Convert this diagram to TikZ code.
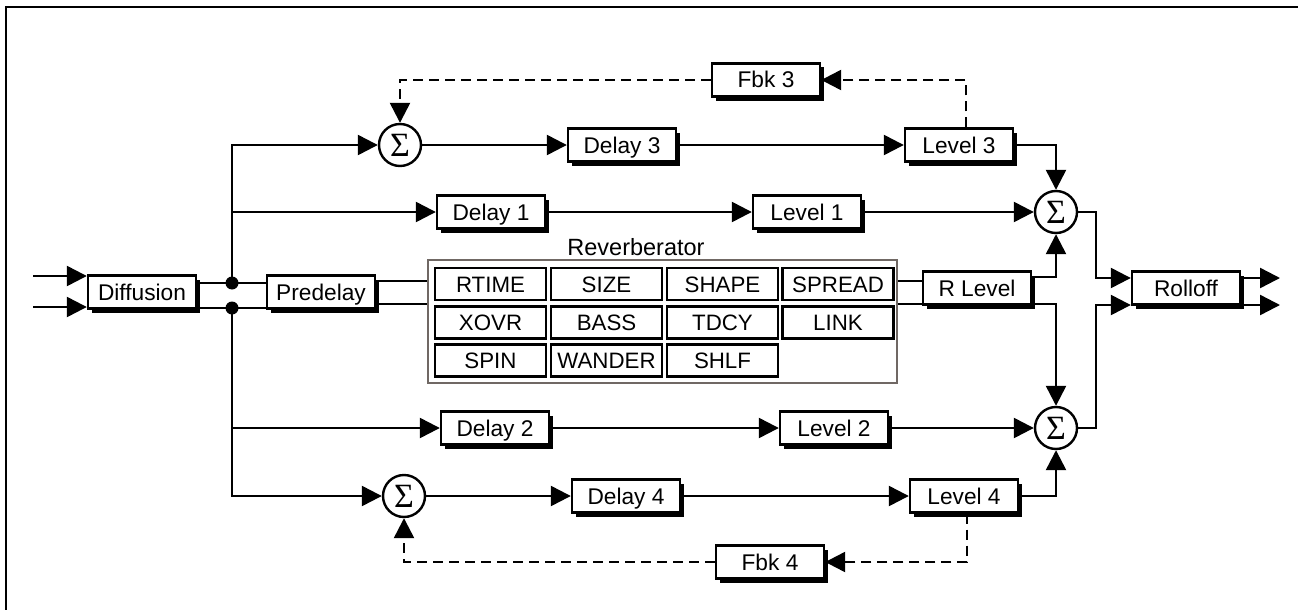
\documentclass[tikz,border=0pt]{standalone}
\usepackage{fontspec}
\setmainfont{Liberation Sans}
\newfontfamily\sigfont{Liberation Serif}
\usetikzlibrary{arrows.meta,shadows,calc}
\definecolor{rvgray}{RGB}{112,104,100}
\begin{document}
\begin{tikzpicture}[x=1pt,y=-1pt,
  ln/.style={line width=2.4pt},
  arr/.style={line width=2.4pt,-{Triangle[length=20pt,width=20pt]}},
  darr/.style={arr,dash pattern=on 10pt off 6pt},
  blk/.style={draw,line width=2.4pt,fill=white,minimum width=108pt,minimum height=33pt,inner sep=0pt,
    text height=16pt,text depth=0pt,font=\fontsize{22.7}{26}\selectfont,
    drop shadow={shadow xshift=4pt,shadow yshift=-4pt,fill=black,opacity=1}},
  cell/.style={draw,line width=2.4pt,minimum width=111pt,minimum height=32pt,inner sep=0pt,
    text height=16pt,text depth=0pt,font=\fontsize{22.3}{26}\selectfont},
  sum/.style={circle,draw,line width=2.4pt,fill=white,minimum size=42pt,inner sep=0pt,
    text height=22pt,text depth=0pt,font=\sigfont\fontsize{34}{34}\selectfont},
  lbl/.style={font=\fontsize{23.5}{26}\selectfont,inner sep=0pt}
]
\useasboundingbox (0,0) rectangle (1298,610);
\draw[line width=2.8pt] (6,610) -- (6,7) -- (1298,7);

% nodes
\node[blk] (Diff) at (142,292) {Diffusion};
\node[blk] (Pre) at (321,292) {Predelay};
\node[draw=rvgray,line width=2.4pt,minimum width=469pt,minimum height=123pt,inner sep=0pt] (RB) at (662.5,321.5) {};
\node[lbl] (RBl) at (636,247) {Reverberator};
\node[cell] (c11) at (490.5,284) {RTIME};
\node[cell] (c12) at (606.5,284) {SIZE};
\node[cell] (c13) at (722.5,284) {SHAPE};
\node[cell] (c14) at (838,284) {SPREAD};
\node[cell] (c21) at (490.5,322.5) {XOVR};
\node[cell] (c22) at (606.5,322.5) {BASS};
\node[cell] (c23) at (722.5,322.5) {TDCY};
\node[cell] (c24) at (838,322.5) {LINK};
\node[cell] (c31) at (490.5,360.5) {SPIN};
\node[cell] (c32) at (606.5,360.5) {WANDER};
\node[cell] (c33) at (722.5,360.5) {SHLF};
\node[blk] (RL) at (977,288) {R Level};
\node[blk] (Roll) at (1186,288) {Rolloff};

\node[blk] (F3) at (766,80) {Fbk 3};
\node[sum] (S3) at (400,145) {Σ};
\node[blk] (D3) at (622,145) {Delay 3};
\node[blk] (L3) at (959,145) {Level 3};
\node[blk] (D1) at (491,212) {Delay 1};
\node[blk] (L1) at (807,212) {Level 1};
\node[sum] (S1) at (1056,212) {Σ};

\node[blk] (D2) at (495,428) {Delay 2};
\node[blk] (L2) at (834,428) {Level 2};
\node[sum] (S2) at (1056,428) {Σ};
\node[sum] (S4) at (404,496) {Σ};
\node[blk] (D4) at (626,496) {Delay 4};
\node[blk] (L4) at (964,496) {Level 4};
\node[blk] (F4) at (770,562) {Fbk 4};

% coordinates
\coordinate (in1) at (33,276);
\coordinate (in2) at (33,307);
\coordinate (j1) at (232,283);
\coordinate (j2) at (232,308);
\coordinate (p1) at (0,281);
\coordinate (p2) at (0,304);
\coordinate (q1) at (0,277);
\coordinate (q2) at (0,304);
\coordinate (mx) at (1096,0);
\coordinate (rin1) at (Roll.west |- 0,278);
\coordinate (rin2) at (Roll.west |- 0,305);
\coordinate (out1) at (1280,278);
\coordinate (out2) at (1280,305);

% inputs
\draw[arr] (in1) -- (in1 -| Diff.west);
\draw[arr] (in2) -- (in2 -| Diff.west);
\draw[ln] (j1 -| Diff.east) -- (j1 -| Pre.west);
\draw[ln] (j2 -| Diff.east) -- (j2 -| Pre.west);
\fill (j1) circle (6.5pt);
\fill (j2) circle (6.5pt);

% predelay -> reverb -> R level
\draw[ln] (p1 -| Pre.east) -- (p1 -| RB.west);
\draw[ln] (p2 -| Pre.east) -- (p2 -| RB.west);
\draw[ln] (p1 -| RB.east) -- (p1 -| RL.west);
\draw[ln] (p2 -| RB.east) -- (p2 -| RL.west);

% branches
\draw[arr] (j1) |- (S3.west);
\draw[arr] (j1 |- D1) -- (D1.west);
\draw[arr] (j2) |- (S4.west);
\draw[arr] (j2 |- D2) -- (D2.west);

% top path
\draw[arr] (S3) -- (D3);
\draw[arr] (D3) -- (L3);
\draw[arr] (L3.east) -| (S1.north);
\draw[darr] ($(L3.north)+(7,0)$) |- (F3.east);
\draw[darr] (F3.west) -| (S3.north);
\draw[arr] (D1) -- (L1);
\draw[arr] (L1) -- (S1);

% R level outputs
\draw[arr] (q1 -| RL.east) -| (S1.south);
\draw[arr] (q2 -| RL.east) -| (S2.north);

% bottom path
\draw[arr] (D2) -- (L2);
\draw[arr] (L2) -- (S2);
\draw[arr] (S4) -- (D4);
\draw[arr] (D4) -- (L4);
\draw[arr] (L4.east) -| (S2.south);
\draw[darr] ($(L4.south)+(3,0)$) |- (F4.east);
\draw[darr] (F4.west) -| (S4.south);

% to rolloff
\draw[arr] (S1.east) -| (mx |- rin1) -- (rin1);
\draw[arr] (S2.east) -| (mx |- rin2) -- (rin2);
\draw[arr] (rin1 -| Roll.east) -- (out1);
\draw[arr] (rin2 -| Roll.east) -- (out2);
\end{tikzpicture}
\end{document}
